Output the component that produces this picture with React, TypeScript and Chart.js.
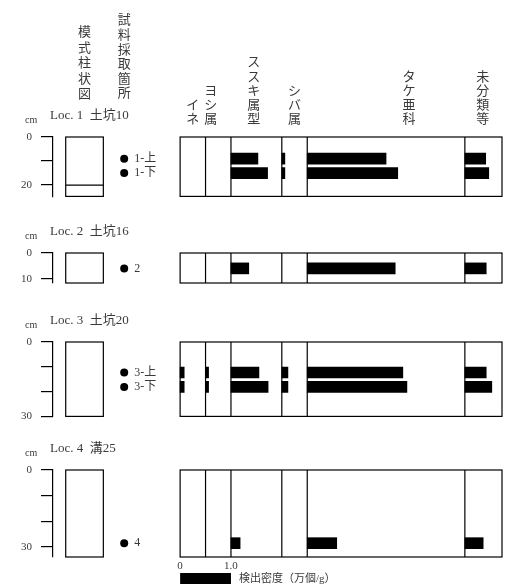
import React, { useEffect, useRef } from 'react';
import { Chart, registerables } from 'chart.js';

Chart.register(...registerables);

// ---------- data ----------
const categories = ['イネ', 'ヨシ属', 'ススキ属型', 'シバ属', 'タケ亜科', '未分類等'];
const columnWidths = [0.5, 0.5, 1.0, 0.5, 3.1, 0.75];
const locationNames = ['Loc. 1  土坑10', 'Loc. 2  土坑16', 'Loc. 3  土坑20', 'Loc. 4  溝25'];
const locationDepthMax = [24.7, 11.7, 30, 34];
const depthTicks = [[0, 10, 20], [0, 10], [0, 10, 20, 30], [0, 10, 20, 30]];
const depthTickLabels = [[0, 20], [0, 10], [0, 30], [0, 30]];
const layerBoundaries = [[20], [], [], []];
const sampleLabels = ['1-上', '1-下', '2', '3-上', '3-下', '4'];
const sampleLocation = [0, 0, 1, 2, 2, 3];
const sampleDepths = [9, 15, 6, 12.3, 18.1, 28.6];
const ine = [0, 0, 0, 0.08, 0.08, 0];
const yoshi = [0, 0, 0, 0.06, 0.06, 0];
const susuki = [0.53, 0.72, 0.35, 0.55, 0.73, 0.18];
const shiba = [0.06, 0.06, 0, 0.12, 0.12, 0];
const take = [1.55, 1.78, 1.73, 1.88, 1.96, 0.58];
const mibunrui = [0.41, 0.47, 0.42, 0.42, 0.53, 0.36];
const seriesValues = [ine, yoshi, susuki, shiba, take, mibunrui];
const headerLeft = ['模式柱状図', '試料採取箇所'];
const scaleBarValue = 1.0;
const scaleBarLabels = ['0', '1.0'];
const scaleBarCaption = '検出密度（万個/g）';

const columnOffsets = columnWidths.map((_, i) => columnWidths.slice(0, i).reduce((a, b) => a + b, 0));
const panelWidth = columnWidths.reduce((a, b) => a + b, 0);

// ---------- layout / style ----------
const FONT = "'Liberation Serif', 'Noto Sans CJK JP', serif";
const TEXT = '#3a3a3a';
const X_MIN = -2.5;
const BOX_X = [-2.25, -1.51];
const DOT_X = -1.1;
const LABEL_X = -0.9;
const HEADER_X = [0.25, 0.6, 1.45, 2.25, 4.5, 5.95];
const LEFT_HEADER_X = [-1.88, -1.1];

const panels = [
  { top: 0, height: 212, padTop: 137, padBottom: 12 },
  { top: 212, height: 88, padTop: 41, padBottom: 17 },
  { top: 300, height: 132, padTop: 42, padBottom: 13 },
  { top: 432, height: 153, padTop: 38, padBottom: 28 },
];

function drawVertical(ctx: CanvasRenderingContext2D, text: string, x: number, lastY: number, pitch: number) {
  const chars = Array.from(text);
  chars.forEach((ch, i) => {
    ctx.fillText(ch, x, lastY - (chars.length - 1 - i) * pitch);
  });
}

function LocationChart({ loc }: { loc: number }) {
  const ref = useRef<HTMLCanvasElement>(null);
  const p = panels[loc];
  useEffect(() => {
    if (!ref.current) return;
    const idx = sampleLocation.map((l, i) => (l === loc ? i : -1)).filter((i) => i >= 0);
    const barData: any[] = [];
    idx.forEach((i) => {
      seriesValues.forEach((series, c) => {
        const v = series[i];
        if (v > 0) barData.push({ y: sampleDepths[i], x: [columnOffsets[c], columnOffsets[c] + v] });
      });
    });
    const dotData = idx.map((i) => ({ x: DOT_X, y: sampleDepths[i] }));

    const framePlugin = {
      id: 'frames' + loc,
      beforeDatasetsDraw(chart: any) {
        const { ctx, chartArea: a, scales } = chart;
        const x = scales.x, y = scales.y;
        ctx.save();
        ctx.strokeStyle = '#000';
        ctx.lineWidth = 1.2;
        const bx0 = x.getPixelForValue(BOX_X[0]);
        const bx1 = x.getPixelForValue(BOX_X[1]);
        ctx.strokeRect(bx0, a.top, bx1 - bx0, a.bottom - a.top);
        layerBoundaries[loc].forEach((d) => {
          const py = y.getPixelForValue(d);
          ctx.beginPath();
          ctx.moveTo(bx0, py);
          ctx.lineTo(bx1, py);
          ctx.stroke();
        });
        const px0 = x.getPixelForValue(0);
        const px1 = x.getPixelForValue(panelWidth);
        ctx.strokeRect(px0, a.top, px1 - px0 - 1, a.bottom - a.top);
        columnOffsets.slice(1).forEach((o) => {
          const px = x.getPixelForValue(o);
          ctx.beginPath();
          ctx.moveTo(px, a.top);
          ctx.lineTo(px, a.bottom);
          ctx.stroke();
        });
        ctx.restore();
      },
      afterDraw(chart: any) {
        const { ctx, chartArea: a, scales } = chart;
        const x = scales.x, y = scales.y;
        ctx.save();
        ctx.fillStyle = TEXT;
        ctx.textBaseline = 'middle';
        ctx.textAlign = 'left';
        ctx.font = `10px ${FONT}`;
        ctx.fillText('cm', 25, a.top - 17);
        ctx.font = `13px ${FONT}`;
        ctx.fillText(locationNames[loc], 50, a.top - 21);
        ctx.font = `12px ${FONT}`;
        idx.forEach((i) => {
          ctx.fillText(sampleLabels[i], x.getPixelForValue(LABEL_X), y.getPixelForValue(sampleDepths[i]));
        });
        if (loc === 0) {
          ctx.textAlign = 'center';
          ctx.font = `13px ${FONT}`;
          drawVertical(ctx, headerLeft[0], x.getPixelForValue(LEFT_HEADER_X[0]), 95, 15.5);
          drawVertical(ctx, headerLeft[1], x.getPixelForValue(LEFT_HEADER_X[1]), 94, 14.6);
          categories.forEach((c, k) => {
            drawVertical(ctx, c, x.getPixelForValue(HEADER_X[k]), 120, 14.3);
          });
        }
        if (loc === 3) {
          const x0 = x.getPixelForValue(0);
          const x1 = x.getPixelForValue(scaleBarValue);
          ctx.fillStyle = '#000';
          ctx.fillRect(x0, a.bottom + 16, x1 - x0, 11);
          ctx.fillStyle = TEXT;
          ctx.font = `11px ${FONT}`;
          ctx.textAlign = 'center';
          ctx.fillText(scaleBarLabels[0], x0, a.bottom + 9);
          ctx.fillText(scaleBarLabels[1], x1, a.bottom + 9);
          ctx.textAlign = 'left';
          ctx.fillText(scaleBarCaption, x1 + 8, a.bottom + 22);
        }
        ctx.restore();
      },
    };

    const chart = new Chart(ref.current, {
      type: 'bar',
      data: {
        datasets: [
          {
            type: 'bar',
            data: barData,
            backgroundColor: '#000',
            borderWidth: 0,
            barThickness: 11,
            grouped: false,
          } as any,
          {
            type: 'scatter',
            data: dotData,
            backgroundColor: '#000',
            borderWidth: 0,
            pointRadius: 4,
          } as any,
        ],
      },
      options: {
        indexAxis: 'y',
        animation: false,
        responsive: false,
        devicePixelRatio: 1,
        layout: { padding: { top: p.padTop, bottom: p.padBottom, left: 0, right: 2 } },
        plugins: { legend: { display: false }, tooltip: { enabled: false } },
        scales: {
          x: { type: 'linear', min: X_MIN, max: panelWidth, display: false, offset: false },
          y: {
            type: 'linear',
            reverse: true,
            offset: false,
            min: 0,
            max: locationDepthMax[loc],
            afterFit: (s: any) => { s.width = 53; },
            afterBuildTicks: (s: any) => { s.ticks = depthTicks[loc].map((v) => ({ value: v })); },
            ticks: {
              autoSkip: false,
              callback: (v: any) => (depthTickLabels[loc].includes(Number(v)) ? String(v) : ''),
              font: { family: FONT, size: 11 },
              color: TEXT,
              padding: 9,
            },
            grid: { offset: false, drawOnChartArea: false, tickLength: 12, color: '#000', lineWidth: 1.2 },
            border: { display: true, color: '#000', width: 1.2 },
          },
        },
      } as any,
      plugins: [framePlugin],
    });
    return () => chart.destroy();
  }, [loc]);
  return (
    <canvas
      ref={ref}
      width={507}
      height={p.height}
      style={{ position: 'absolute', left: 0, top: p.top, width: 507, height: p.height }}
    />
  );
}

export default function App() {
  return (
    <div style={{ position: 'absolute', left: 0, top: 0, width: 507, height: 585, background: '#fff', overflow: 'hidden' }}>
      {panels.map((_, i) => (
        <LocationChart key={i} loc={i} />
      ))}
    </div>
  );
}
